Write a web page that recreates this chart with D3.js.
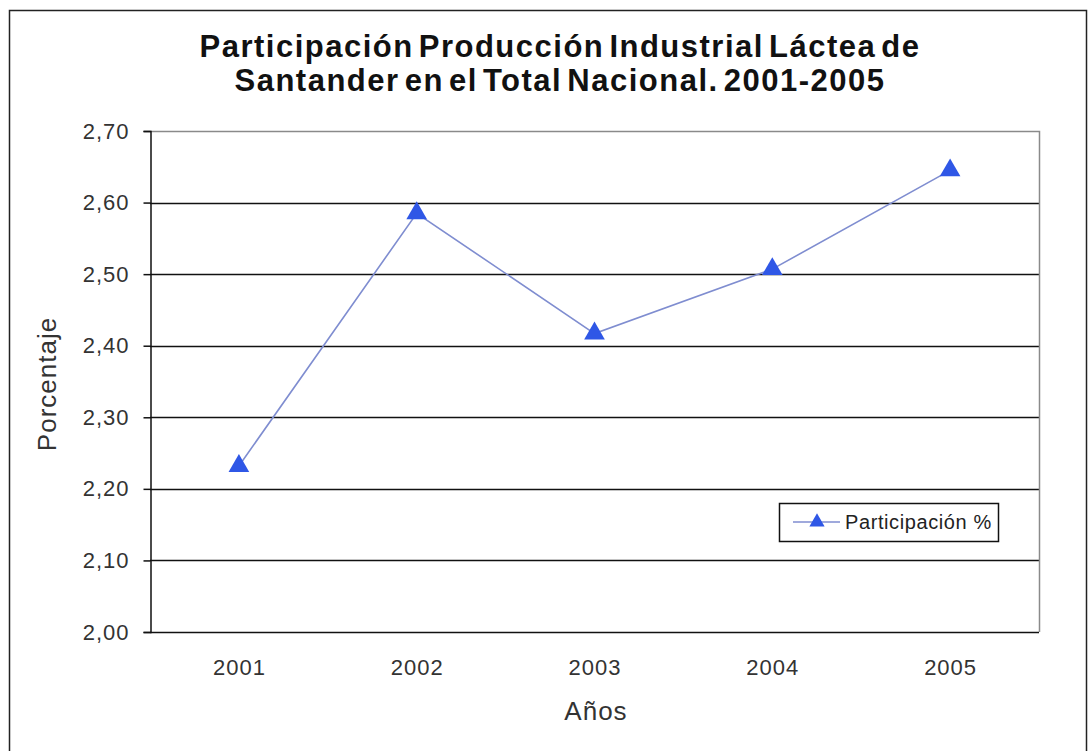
<!DOCTYPE html>
<html><head><meta charset="utf-8">
<script src="https://cdn.jsdelivr.net/npm/d3@7"></script>
<style>body{margin:0;background:#fff}svg{display:block}</style>
</head><body>
<svg id="c" width="1088" height="751"></svg>
<script>
const years = ["2001","2002","2003","2004","2005"];
const participacion = [2.232, 2.585, 2.417, 2.507, 2.645];
const yTicks = [2.0, 2.1, 2.2, 2.3, 2.4, 2.5, 2.6, 2.7];
const titleLines = ["Participación Producción Industrial Láctea de", "Santander en el Total Nacional. 2001-2005"];
const seriesName = "Participación %";
const xTitle = "Años";
const yTitle = "Porcentaje";

const svg = d3.select("#c");
const font = "Arial, 'Liberation Sans', sans-serif";
const M = {left:150, right:1039, top:131, bottom:632};

// outer frame
svg.append("rect").attr("x",9.5).attr("y",10.5).attr("width",1077).attr("height",780)
  .attr("fill","#fff").attr("stroke","#222").attr("stroke-width",1.5);

const x = d3.scalePoint().domain(years).range([M.left, M.right]).padding(0.5);
const y = d3.scaleLinear().domain([2.0, 2.7]).range([M.bottom, M.top]);

// gridlines
svg.append("g").selectAll("line").data(yTicks.filter(v => v > 2.0 && v < 2.7)).join("line")
  .attr("x1",M.left).attr("x2",M.right)
  .attr("y1",d=>Math.round(y(d))+0.5).attr("y2",d=>Math.round(y(d))+0.5)
  .attr("stroke","#111").attr("stroke-width",1.5);

// plot border top/right (gray)
svg.append("path").attr("d",`M${M.left},${M.top+0.5}H${M.right+0.5}V${M.bottom}`)
  .attr("fill","none").attr("stroke","#8a8a8a").attr("stroke-width",1.5);

// y axis
const yAxis = d3.axisLeft(y).tickValues(yTicks).tickSize(7).tickPadding(14)
  .tickFormat(d => d3.format(".2f")(d).replace(".", ","));
const gy = svg.append("g").attr("transform",`translate(${M.left+0.5},0)`).call(yAxis);
gy.select(".domain").attr("stroke","#111").attr("stroke-width",1.5);
gy.selectAll(".tick line").attr("stroke","#111").attr("stroke-width",1.5);
gy.selectAll(".tick text").attr("font-family",font).attr("font-size",22).attr("letter-spacing",1).attr("fill","#333");

// x axis
const xAxis = d3.axisBottom(x).tickSize(0).tickPadding(27);
const gx = svg.append("g").attr("transform",`translate(0,${M.bottom+0.5})`).call(xAxis);
gx.select(".domain").attr("d",`M${M.left},0H${M.right}`).attr("stroke","#111").attr("stroke-width",1.5);
gx.selectAll(".tick text").attr("font-family",font).attr("font-size",22).attr("letter-spacing",1).attr("fill","#333");

// series line
const lineColor = "#7f8dd0", markColor = "#2f57e6";
svg.append("path").datum(participacion)
  .attr("d", d3.line().x((d,i)=>x(years[i])).y(d=>y(d)))
  .attr("fill","none").attr("stroke",lineColor).attr("stroke-width",1.6);

const tri = d3.symbol().type(d3.symbolTriangle).size(185);
svg.append("g").selectAll("path").data(participacion).join("path")
  .attr("d", tri)
  .attr("transform",(d,i)=>`translate(${x(years[i])},${y(d)})`)
  .attr("fill",markColor);

// title
svg.append("text").attr("x",560).attr("y",57).attr("text-anchor","middle")
  .attr("font-family",font).attr("font-weight","bold").attr("font-size",31)
  .attr("letter-spacing",1.5).attr("word-spacing",-5).attr("fill","#111")
  .selectAll("tspan").data(titleLines).join("tspan")
  .attr("x",560).attr("dy",(d,i)=>i?34:0).text(d=>d);

// axis titles
svg.append("text").attr("x",596).attr("y",720).attr("text-anchor","middle")
  .attr("font-family",font).attr("font-size",26).attr("letter-spacing",1).attr("fill","#333").text(xTitle);
svg.append("text").attr("transform","translate(56,384) rotate(-90)").attr("text-anchor","middle")
  .attr("font-family",font).attr("font-size",26).attr("letter-spacing",1).attr("fill","#333").text(yTitle);

// legend
const lg = svg.append("g");
lg.append("rect").attr("x",779.5).attr("y",503.5).attr("width",219).attr("height",38)
  .attr("fill","#fff").attr("stroke","#111").attr("stroke-width",1.5);
lg.append("line").attr("x1",793).attr("x2",840).attr("y1",522).attr("y2",522)
  .attr("stroke",lineColor).attr("stroke-width",1.6);
lg.append("path").attr("d", d3.symbol().type(d3.symbolTriangle).size(100))
  .attr("transform","translate(817,522)").attr("fill",markColor);
lg.append("text").attr("x",845).attr("y",529).attr("font-family",font).attr("font-size",20)
  .attr("letter-spacing",0.6).attr("fill","#222").text(seriesName);
</script>
</body></html>
